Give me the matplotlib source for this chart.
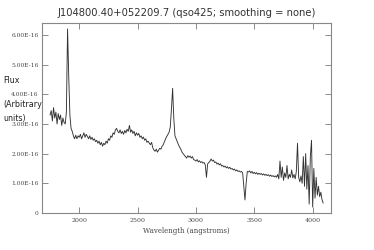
import numpy as np
import matplotlib
matplotlib.use("Agg")
import matplotlib.pyplot as plt

# Spectrum sampled every 10 Angstrom starting at 1750 (flux in units of 1e-16)
wave_start = 1750
wave_step = 10
flux = [
    3.30, 3.45, 3.10, 3.55, 3.20, 3.40, 3.00, 3.35, 3.15, 3.30,
    2.95, 3.20, 3.05, 3.00, 3.40, 6.20, 4.60, 3.30, 2.85, 2.75,
    2.60, 2.50, 2.62, 2.50, 2.60, 2.55, 2.65, 2.50, 2.60, 2.70,
    2.55, 2.65, 2.58, 2.50, 2.60, 2.48, 2.55, 2.45, 2.50, 2.40,
    2.45, 2.35, 2.42, 2.30, 2.38, 2.25, 2.35, 2.30, 2.42, 2.35,
    2.50, 2.45, 2.60, 2.55, 2.70, 2.65, 2.80, 2.85, 2.75, 2.70,
    2.80, 2.68, 2.75, 2.65, 2.78, 2.70, 2.82, 2.75, 2.95, 2.72,
    2.80, 2.68, 2.75, 2.60, 2.70, 2.62, 2.68, 2.55, 2.60, 2.50,
    2.56, 2.45, 2.50, 2.38, 2.42, 2.35, 2.30, 2.38, 2.20, 2.12,
    2.08, 2.15, 2.05, 2.12, 2.18, 2.15, 2.25, 2.30, 2.40, 2.50,
    2.58, 2.65, 2.72, 2.90, 3.50, 4.20, 3.20, 2.60, 2.50, 2.40,
    2.30, 2.22, 2.15, 2.05, 2.00, 1.95, 1.90, 1.85, 1.93, 1.88,
    1.92, 1.85, 1.90, 1.80, 1.78, 1.75, 1.80, 1.72, 1.76, 1.70,
    1.73, 1.68, 1.70, 1.62, 1.20, 1.65, 1.70, 1.75, 1.82, 1.75,
    1.78, 1.70, 1.72, 1.65, 1.68, 1.62, 1.66, 1.58, 1.60, 1.55,
    1.58, 1.52, 1.56, 1.50, 1.54, 1.48, 1.50, 1.45, 1.48, 1.42,
    1.45, 1.40, 1.42, 1.38, 1.40, 1.35, 0.90, 0.44, 1.00, 1.40,
    1.38, 1.42, 1.35, 1.40, 1.33, 1.37, 1.32, 1.36, 1.30, 1.34,
    1.30, 1.33, 1.28, 1.32, 1.27, 1.30, 1.26, 1.29, 1.24, 1.28,
    1.23, 1.26, 1.22, 1.25, 1.20, 1.30, 1.15, 1.75, 1.20, 1.55,
    1.10, 1.35, 1.20, 1.60, 1.15, 1.30, 1.20, 1.45, 1.18, 1.30,
    1.15, 1.40, 2.35, 1.20, 1.05, 1.25, 1.00, 1.90, 0.90, 2.00,
    0.80, 1.60, 0.30, 1.90, 2.45, 0.20, 1.50, 0.50, 1.20, 0.60,
    0.90, 0.55, 0.70, 0.45, 0.34,
]
wave = wave_start + wave_step * np.arange(len(flux))

x_ticks = [2000, 2500, 3000, 3500, 4000]
y_ticks = [0, 1, 2, 3, 4, 5, 6]
y_tick_labels = ["0", "1.00E-16", "2.00E-16", "3.00E-16", "4.00E-16", "5.00E-16", "6.00E-16"]

fig = plt.figure(figsize=(3.74, 2.5), dpi=100)
ax = fig.add_axes([42/374, 37/250, 289/374, 190/250])
ax.plot(wave, flux, color="#333333", lw=0.65)
ax.set_xlim(1681, 4157)
ax.set_ylim(0, 6.4)
ax.set_xticks(x_ticks)
ax.set_xticklabels([str(t) for t in x_ticks], family="DejaVu Serif", fontsize=4.5, color="#444444")
ax.set_yticks(y_ticks)
ax.set_yticklabels(y_tick_labels, family="DejaVu Serif", fontsize=4.3, color="#444444")
ax.tick_params(direction="in", length=4.5, width=0.6, color="#777777",
               top=True, right=True, pad=2.5)
ax.tick_params(axis="x", pad=3.5)
for s in ax.spines.values():
    s.set_color("#888888")
    s.set_linewidth(0.8)
ax.set_xlabel("Wavelength (angstroms)", family="DejaVu Serif", fontsize=5, color="#444444", labelpad=3)
ax.set_title("J104800.40+052209.7 (qso425; smoothing = none)", fontsize=7.2, color="#333333", pad=5)

fig.text(3/374, 1 - 80/250, "Flux", fontsize=5.8, va="center", ha="left", color="#222222")
fig.text(3/374, 1 - 105/250, "(Arbitrary", fontsize=5.8, va="center", ha="left", color="#222222")
fig.text(3/374, 1 - 118/250, "units)", fontsize=5.8, va="center", ha="left", color="#222222")

fig.savefig("out.png", dpi=100)
